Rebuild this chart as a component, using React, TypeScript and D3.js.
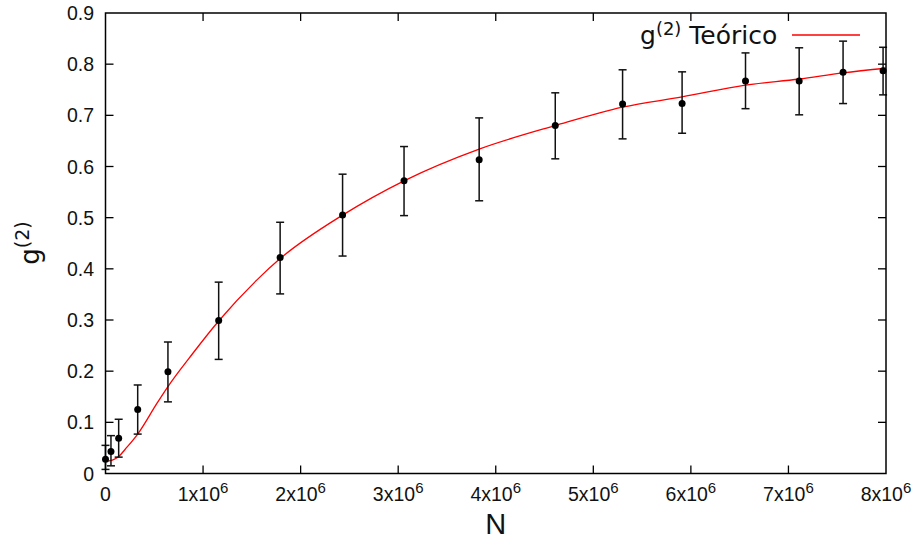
import React, { useRef, useEffect } from "react";
import * as d3 from "d3";

// measured points
const nValues = [0, 56000, 135000, 330000, 640000, 1160000, 1790000, 2430000, 3060000, 3830000, 4610000, 5300000, 5910000, 6560000, 7110000, 7560000, 7970000];
const g2Values = [0.028, 0.043, 0.069, 0.125, 0.199, 0.299, 0.422, 0.505, 0.572, 0.613, 0.68, 0.722, 0.723, 0.767, 0.767, 0.784, 0.787];
const errLow = [0.008, 0.015, 0.032, 0.077, 0.14, 0.223, 0.351, 0.425, 0.504, 0.533, 0.615, 0.654, 0.665, 0.713, 0.701, 0.723, 0.74];
const errHigh = [0.055, 0.074, 0.106, 0.173, 0.257, 0.374, 0.491, 0.585, 0.639, 0.695, 0.744, 0.789, 0.785, 0.822, 0.832, 0.845, 0.833];

// theoretical curve
const theoryN = [20000, 70000, 135000, 200000, 330000, 530000, 640000, 900000, 1160000, 1550000, 1790000, 2430000, 3060000, 3830000, 4610000, 5300000, 5910000, 6560000, 7110000, 7560000, 8000000];
const theoryG = [0.024, 0.026, 0.033, 0.047, 0.077, 0.138, 0.17, 0.236, 0.298, 0.378, 0.42, 0.505, 0.572, 0.634, 0.68, 0.716, 0.736, 0.759, 0.771, 0.783, 0.792];

const xTicks = [0, 1, 2, 3, 4, 5, 6, 7, 8];
const yTicks = [0, 0.1, 0.2, 0.3, 0.4, 0.5, 0.6, 0.7, 0.8, 0.9];

const width = 918;
const height = 541;

const App = () => {
  const svgRef = useRef(null);

  useEffect(() => {
    const svg = d3.select(svgRef.current);
    svg.selectAll("*").remove();

    const margin = { top: 13, right: 32, bottom: 67.5, left: 105.5 };
    const x = d3.scaleLinear().domain([0, 8e6]).range([margin.left, width - margin.right]);
    const y = d3.scaleLinear().domain([0, 0.9]).range([height - margin.bottom, margin.top]);
    const tick = 8;
    const tickFont = "'Liberation Sans', Arial, sans-serif";
    const dejavu = "'DejaVu Sans', sans-serif";

    const axes = svg.append("g").attr("stroke", "#000").attr("stroke-width", 1.3);
    // ticks, mirrored on top and right
    xTicks.forEach((t) => {
      const px = x(t * 1e6);
      if (t > 0 && t < 8) {
        axes.append("line").attr("x1", px).attr("x2", px).attr("y1", y(0)).attr("y2", y(0) - tick);
        axes.append("line").attr("x1", px).attr("x2", px).attr("y1", y(0.9)).attr("y2", y(0.9) + tick);
      }
    });
    yTicks.forEach((t) => {
      const py = y(t);
      if (t > 0 && t < 0.9) {
        axes.append("line").attr("x1", x(0)).attr("x2", x(0) + tick).attr("y1", py).attr("y2", py);
        axes.append("line").attr("x1", x(8e6)).attr("x2", x(8e6) - tick).attr("y1", py).attr("y2", py);
      }
    });

    // tick labels
    const yl = svg.append("g").attr("font-family", tickFont).attr("font-size", 19.5).attr("fill", "#111");
    yTicks.forEach((t) => {
      yl.append("text")
        .attr("x", 94)
        .attr("y", y(t) + 7)
        .attr("text-anchor", "end")
        .text(t === 0 ? "0" : d3.format(".1f")(t));
    });
    const xl = svg.append("g").attr("font-family", tickFont).attr("font-size", 19.5).attr("fill", "#111");
    xTicks.forEach((t) => {
      const txt = xl.append("text").attr("x", x(t * 1e6)).attr("y", 501).attr("text-anchor", "middle");
      if (t === 0) {
        txt.text("0");
      } else {
        txt.append("tspan").text(`${t}x10`);
        txt.append("tspan").attr("dy", -8).attr("font-size", 15).text("6");
      }
    });

    // axis titles
    svg.append("text")
      .attr("x", x(4e6))
      .attr("y", 534)
      .attr("text-anchor", "middle")
      .attr("font-family", tickFont)
      .attr("font-size", 29)
      .attr("fill", "#111")
      .text("N");
    const ylab = svg.append("text")
      .attr("transform", `translate(39,243) rotate(-90)`)
      .attr("text-anchor", "middle")
      .attr("font-family", dejavu)
      .attr("font-size", 26)
      .attr("fill", "#111");
    ylab.append("tspan").text("g");
    ylab.append("tspan").attr("dy", -10).attr("font-size", 19).text("(2)");

    // theoretical curve
    const pts = theoryN.map((n, i) => [n, theoryG[i]]);
    const line = d3.line().x((d) => x(d[0])).y((d) => y(d[1])).curve(d3.curveMonotoneX);
    svg.append("path")
      .datum(pts)
      .attr("fill", "none")
      .attr("stroke", "#ff0000")
      .attr("stroke-width", 1.3)
      .attr("d", line);

    // error bars
    const eb = svg.append("g").attr("stroke", "#111").attr("stroke-width", 1.5);
    nValues.forEach((n, i) => {
      const px = x(n);
      eb.append("line").attr("x1", px).attr("x2", px).attr("y1", y(errLow[i])).attr("y2", y(errHigh[i]));
      eb.append("line").attr("x1", px - 4).attr("x2", px + 4).attr("y1", y(errLow[i])).attr("y2", y(errLow[i]));
      eb.append("line").attr("x1", px - 4).attr("x2", px + 4).attr("y1", y(errHigh[i])).attr("y2", y(errHigh[i]));
    });
    svg.append("g")
      .selectAll("circle")
      .data(nValues)
      .join("circle")
      .attr("cx", (d) => x(d))
      .attr("cy", (d, i) => y(g2Values[i]))
      .attr("r", 3.5)
      .attr("fill", "#000");

    // frame on top
    svg.append("rect")
      .attr("x", x(0))
      .attr("y", y(0.9))
      .attr("width", x(8e6) - x(0))
      .attr("height", y(0) - y(0.9))
      .attr("fill", "none")
      .attr("stroke", "#000")
      .attr("stroke-width", 1.5);

    // legend
    const lg = svg.append("text")
      .attr("x", 640)
      .attr("y", 44)
      .attr("font-family", dejavu)
      .attr("font-size", 25)
      .attr("fill", "#111");
    lg.append("tspan").text("g");
    lg.append("tspan").attr("dy", -9).attr("font-size", 18).text("(2)");
    lg.append("tspan").attr("dy", 9).text(" Teórico");
    svg.append("line")
      .attr("x1", 792)
      .attr("x2", 860)
      .attr("y1", 35)
      .attr("y2", 35)
      .attr("stroke", "#ff0000")
      .attr("stroke-width", 1.3);
  }, []);

  return (
    <div style={{ position: "absolute", left: 0, top: 0 }}>
      <svg ref={svgRef} width={width} height={height} style={{ display: "block", background: "#fff" }}></svg>
    </div>
  );
};

export default App;
